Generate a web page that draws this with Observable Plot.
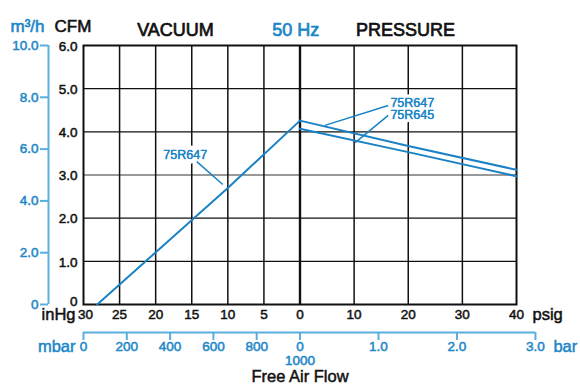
<!DOCTYPE html>
<html><head><meta charset="utf-8">
<script src="https://cdn.jsdelivr.net/npm/d3@7"></script>
<script src="https://cdn.jsdelivr.net/npm/@observablehq/plot@0.6"></script>
<style>body{margin:0;background:#fff}</style>
</head><body><div id="chart"></div>
<script>
// ---- tick values ----
const inHgTicks = [30, 25, 20, 15, 10, 5, 0];
const psigTicks = [10, 20, 30, 40];
const cfmTicks = [0, 1, 2, 3, 4, 5, 6];
const m3hTicks = [0, 2, 4, 6, 8, 10];
const mbarTicks = [0, 200, 400, 600, 800];
const barTicks = [1.0, 2.0, 3.0];

// ---- series (CFM) ----
const vacuum647 = [{inHg: 28.1, cfm: 0}, {inHg: 10, cfm: 2.7}, {inHg: 0, cfm: 4.26}];
const pressure647 = [{psig: 0, cfm: 4.26}, {psig: 20, cfm: 3.67}, {psig: 40, cfm: 3.12}];
const pressure645 = [{psig: 0, cfm: 4.07}, {psig: 20, cfm: 3.53}, {psig: 40, cfm: 2.97}];

// ---- curve labels and leaders ----
const vacLabels = [{name: "75R647", inHg: 15.9, cfm: 3.47}];
const presLabels = [{name: "75R647", psig: 16.7, cfm: 4.67}, {name: "75R645", psig: 16.7, cfm: 4.38}];
const vacLeaders = [{h1: 14.3, c1: 3.31, h2: 10.7, c2: 2.78}];
const presLeaders = [{p1: 16.3, c1: 4.61, p2: 4.6, c2: 4.15}, {p1: 16.3, c1: 4.38, p2: 10.2, c2: 3.75}];

// ---- scale helpers: vacuum side u in [-1,0], pressure side u in [0,1] ----
const uVac = h => -h / 30;
const uPsig = p => p / 40;
const uMbar = m => m / 1000 - 1;
const uBar = b => b * 14.5 / 40;
const m3hToCfm = v => v * 0.6;

const W = 580, H = 387, mT = 45, mB = 83, mL = 83, mR = 64;
const pxPerU = (W - mL - mR) / 2;
const pxPerCfm = (H - mT - mB) / 6;
const m3hAxisU = -1 - 35 / pxPerU;        // secondary y axis position
const m3hTickU = -1 - 43 / pxPerU;
const barAxisC = -28 / pxPerCfm;          // secondary x axis position
const barTickC = -36 / pxPerCfm;

const blue = "#1b86c8", lineBlue = "#1a82c4", light = "#5aaee0", ink = "#111";
const font = "'Liberation Sans', Arial, sans-serif";
const fmt1 = d => d === 0 ? "0" : d.toFixed(1);
const heavy = (c, w = 0.5) => ({fill: c, stroke: c, strokeWidth: w});

const headers = [
  {t: "m³/h", u: -1.337, fill: blue, anchor: "start"},
  {t: "CFM", u: -1.134, fill: ink, anchor: "start"},
  {t: "VACUUM", u: -0.575, fill: ink, anchor: "middle"},
  {t: "50 Hz", u: -0.02, fill: blue, anchor: "middle"},
  {t: "PRESSURE", u: 0.487, fill: ink, anchor: "middle"}
];

const chart = Plot.plot({
  width: W, height: H,
  marginTop: mT, marginBottom: mB, marginLeft: mL, marginRight: mR,
  x: {domain: [-1, 1], axis: null},
  y: {domain: [0, 6], axis: null},
  style: {fontFamily: font, background: "white", overflow: "visible"},
  marks: [
    // grid
    Plot.ruleY([1, 2, 4, 5], {stroke: ink, strokeWidth: 1.2}),
    Plot.ruleY([3], {stroke: "#777", strokeWidth: 1.6}),
    Plot.ruleX([...inHgTicks.filter(d => d !== 30 && d !== 0).map(uVac), ...psigTicks.filter(d => d !== 40).map(uPsig)], {stroke: ink, strokeWidth: 1.5}),
    Plot.ruleX([0], {stroke: ink, strokeWidth: 2.4}),
    // curve labels (white halo interrupts grid)
    Plot.text(vacLabels, {x: d => uVac(d.inHg), y: "cfm", text: "name", fill: blue, stroke: "white", strokeWidth: 9, fontSize: 12.5, textAnchor: "middle"}),
    Plot.text(presLabels, {x: d => uPsig(d.psig), y: "cfm", text: "name", fill: blue, stroke: "white", strokeWidth: 7, fontSize: 12.5, textAnchor: "start"}),
    Plot.text(vacLabels, {x: d => uVac(d.inHg), y: "cfm", text: "name", ...heavy(blue, 0.3), fontSize: 12.5, textAnchor: "middle"}),
    Plot.text(presLabels, {x: d => uPsig(d.psig), y: "cfm", text: "name", ...heavy(blue, 0.3), fontSize: 12.5, textAnchor: "start"}),
    Plot.frame({stroke: ink, strokeWidth: 2}),
    // curves
    Plot.line(vacuum647, {x: d => uVac(d.inHg), y: "cfm", stroke: lineBlue, strokeWidth: 2}),
    Plot.line(pressure647, {x: d => uPsig(d.psig), y: "cfm", stroke: lineBlue, strokeWidth: 2}),
    Plot.line(pressure645, {x: d => uPsig(d.psig), y: "cfm", stroke: lineBlue, strokeWidth: 2}),
    // leaders
    Plot.link(vacLeaders, {x1: d => uVac(d.h1), y1: "c1", x2: d => uVac(d.h2), y2: "c2", stroke: lineBlue, strokeWidth: 1.5}),
    Plot.link(presLeaders, {x1: d => uPsig(d.p1), y1: "c1", x2: d => uPsig(d.p2), y2: "c2", stroke: lineBlue, strokeWidth: 1.5}),
    // CFM axis labels
    Plot.text(cfmTicks.filter(d => d !== 0), {x: () => -1, y: d => d, text: fmt1, textAnchor: "end", dx: -6, dy: 1, fontSize: 13.5, ...heavy(ink)}),
    Plot.text([0], {x: () => -1, y: d => d, text: fmt1, textAnchor: "end", dx: -6, dy: -3, fontSize: 13.5, ...heavy(ink)}),
    // m3/h axis
    Plot.ruleX([m3hAxisU], {stroke: light, strokeWidth: 2}),
    Plot.ruleY(m3hTicks, {y: m3hToCfm, x1: () => m3hTickU, x2: () => m3hAxisU, stroke: light, strokeWidth: 2}),
    Plot.text(m3hTicks, {x: () => m3hTickU, y: m3hToCfm, text: fmt1, textAnchor: "end", dx: -2, fontSize: 13.5, ...heavy(blue)}),
    // bottom: inHg / psig
    Plot.text(inHgTicks.filter(d => d !== 30), {x: uVac, frameAnchor: "bottom", dy: 14, text: d => String(d), fontSize: 13.5, ...heavy(ink)}),
    Plot.text([30], {x: uVac, frameAnchor: "bottom", dy: 14, dx: 2, text: d => String(d), fontSize: 13.5, ...heavy(ink)}),
    Plot.text(psigTicks, {x: uPsig, frameAnchor: "bottom", dy: 14, text: d => String(d), fontSize: 13.5, ...heavy(ink)}),
    Plot.text(["inHg"], {x: () => -1, frameAnchor: "bottom", dy: 15, dx: -8, textAnchor: "end", text: d => d, fontSize: 16.5, ...heavy(ink)}),
    Plot.text(["psig"], {x: () => 1, frameAnchor: "bottom", dy: 15, dx: 16, textAnchor: "start", text: d => d, fontSize: 16.5, ...heavy(ink)}),
    // bottom: mbar / bar
    Plot.ruleY([barAxisC], {x1: () => uMbar(0), x2: () => uBar(3), stroke: light, strokeWidth: 2}),
    Plot.ruleX([...mbarTicks.map(uMbar), 0, ...barTicks.map(uBar)], {y1: () => barAxisC, y2: () => barTickC, stroke: light, strokeWidth: 2}),
    Plot.text(mbarTicks, {x: uMbar, frameAnchor: "bottom", dy: 46, text: d => String(d), fontSize: 13.5, ...heavy(blue)}),
    Plot.text(["0"], {x: () => 0, frameAnchor: "bottom", dy: 46, text: d => d, fontSize: 13.5, ...heavy(blue)}),
    Plot.text(["1000"], {x: () => uMbar(1000), frameAnchor: "bottom", dy: 60, text: d => d, fontSize: 13.5, ...heavy(blue)}),
    Plot.text(barTicks, {x: uBar, frameAnchor: "bottom", dy: 46, text: d => d.toFixed(1), fontSize: 13.5, ...heavy(blue)}),
    Plot.text(["mbar"], {x: () => uMbar(0), frameAnchor: "bottom", dy: 47, dx: -8, textAnchor: "end", text: d => d, fontSize: 16.5, ...heavy(blue)}),
    Plot.text(["bar"], {x: () => uBar(3), frameAnchor: "bottom", dy: 47, dx: 18, textAnchor: "start", text: d => d, fontSize: 16.5, ...heavy(blue)}),
    Plot.text(["Free Air Flow"], {x: () => 0, frameAnchor: "bottom", dy: 77, text: d => d, fontSize: 16.5, ...heavy(ink)}),
    // headers
    Plot.text(headers.filter(d => d.anchor === "start"), {x: "u", frameAnchor: "top", dy: -26, text: "t", fill: "fill", stroke: "fill", strokeWidth: 0.6, textAnchor: "start", fontSize: 17}),
    Plot.text(headers.filter(d => d.anchor === "middle"), {x: "u", frameAnchor: "top", dy: -22, text: "t", fill: "fill", stroke: "fill", strokeWidth: 0.7, textAnchor: "middle", fontSize: 18})
  ]
});
document.getElementById("chart").append(chart);
</script>
</body></html>
